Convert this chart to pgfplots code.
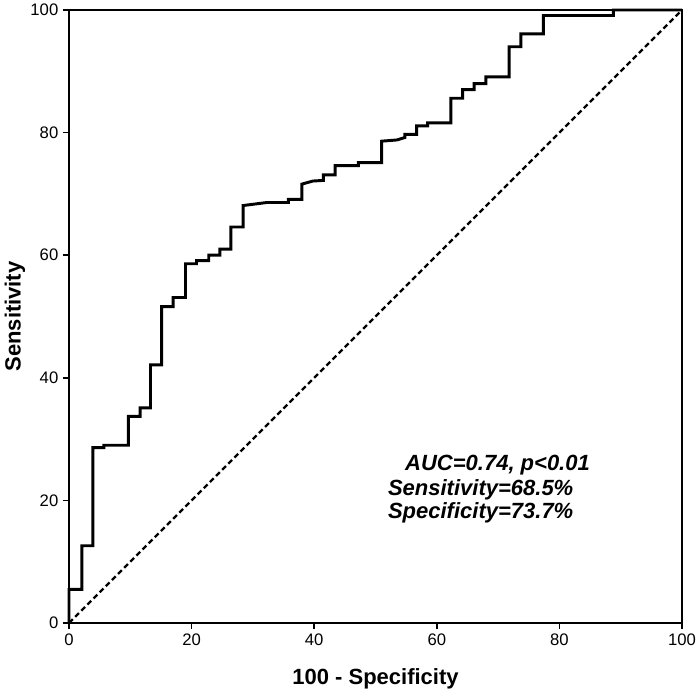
\documentclass[border=0pt]{standalone}
\usepackage{fontspec}
\setmainfont{Liberation Sans}
\usepackage{pgfplots}
\pgfplotsset{compat=1.18}

\begin{document}
\begin{tikzpicture}
\begin{axis}[
    width=459.75pt, height=459.75pt,
    scale only axis,
    xmin=0, xmax=100, ymin=0, ymax=100,
    xtick={0,20,...,100}, ytick={0,20,...,100},
    tick align=outside,
    tick pos=left,
    major tick length=4.5pt,
    every tick/.style={black, line width=1.3pt},
    axis line style={line width=1.6pt},
    /pgf/number format/assume math mode=true,
    tick label style={font=\fontsize{12.5}{14}\selectfont},
    xlabel={\textbf{100 - Specificity}},
    ylabel={\textbf{Sensitivity}},
    label style={font=\fontsize{16.5}{19}\selectfont},
    xlabel style={at={(axis description cs:0.5,-0.0914)}, anchor=center},
    ylabel style={at={(axis description cs:-0.088,0.5)}, anchor=center},
    clip=false,
]
\addplot[black, line width=1.8pt, dash pattern=on 4pt off 2.5pt]
    coordinates {(0,0) (100,100)};
\addplot[black, line width=2.2pt, line join=miter] coordinates {
(0,0) (0,5.5) (2.1,5.5) (2.1,12.6) (3.9,12.6) (3.9,28.6) (5.7,28.6) (5.7,29.0)
(9.7,29.0) (9.7,33.7) (11.6,33.7) (11.6,35.1) (13.3,35.1) (13.3,42.1) (15.1,42.1)
(15.1,51.6) (17.0,51.6) (17.0,53.1) (19.0,53.1) (19.0,58.6) (20.8,58.6) (20.8,59.1)
(22.8,59.1) (22.8,60.0) (24.6,60.0) (24.6,61.0) (26.4,61.0) (26.4,64.6) (28.4,64.6)
(28.4,68.1) (32.3,68.6) (35.8,68.6) (35.8,69.1) (38.0,69.1) (38.0,71.6) (39.8,72.1)
(41.5,72.2) (41.5,73.1) (43.4,73.1) (43.4,74.6) (47.2,74.6) (47.2,75.1) (51.0,75.1)
(51.0,78.6) (53.5,78.8) (54.8,79.2) (54.8,79.7) (56.7,79.7) (56.7,81.1) (58.5,81.1)
(58.5,81.6) (62.3,81.6) (62.3,85.6) (64.2,85.6) (64.2,87.0) (66.1,87.0) (66.1,88.0)
(68.0,88.0) (68.0,89.1) (71.8,89.1) (71.8,94.0) (73.7,94.0) (73.7,96.1) (77.4,96.1)
(77.4,99.1) (88.8,99.1) (88.8,100) (100,100)
};
\node[anchor=west, font=\fontsize{16.5}{19}\selectfont\bfseries\itshape, inner sep=0pt]
    at (axis cs:54.8,25.8) {AUC=0.74, p<0.01};
\node[anchor=west, font=\fontsize{16.5}{19}\selectfont\bfseries\itshape, inner sep=0pt]
    at (axis cs:52.0,21.8) {Sensitivity=68.5\%};
\node[anchor=west, font=\fontsize{16.5}{19}\selectfont\bfseries\itshape, inner sep=0pt]
    at (axis cs:52.0,18.0) {Specificity=73.7\%};
\end{axis}
\pgfresetboundingbox
\path[use as bounding box] (-51.75pt,-54.75pt) rectangle (473.25pt,467.25pt);
\end{tikzpicture}
\end{document}
